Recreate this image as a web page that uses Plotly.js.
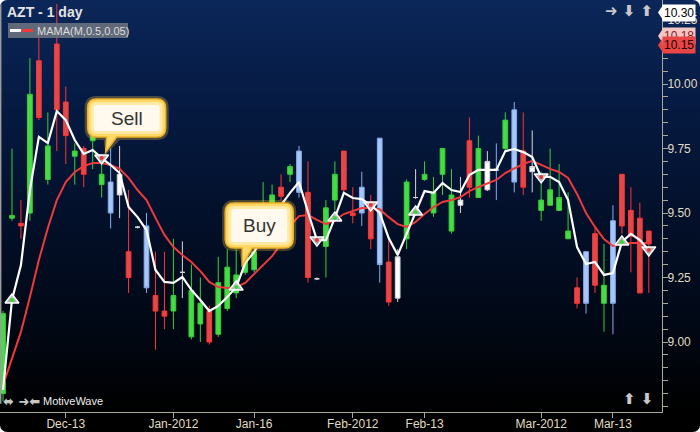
<!DOCTYPE html>
<html><head><meta charset="utf-8">
<script src="https://cdn.plot.ly/plotly-3.0.1.min.js"></script>
<style>
html,body{margin:0;padding:0;background:#ffffff;}
#wrap{position:relative;width:700px;height:432px;border-radius:7px;overflow:hidden;
background:linear-gradient(to bottom,#0b2759 0%,#061b44 22%,#03102a 50%,#010815 75%,#000000 95%);}
#chart{width:700px;height:432px;}
</style></head><body>
<div id="wrap"><div id="chart"></div></div>
<script>
// ---- data ----
const opens  = [8.80,9.48,9.46,9.50,10.09,9.63,10.155,9.93,9.72,9.75,9.78,9.61,9.62,9.65,9.35,9.445,9.45,9.18,9.12,9.12,9.27,9.02,9.07,9.12,9.03,9.13,9.19,9.27,9.28,9.40,9.46,9.60,9.65,9.74,9.58,9.245,9.37,9.55,9.74,9.50,9.60,9.54,9.79,9.31,9.17,9.40,9.56,9.63,9.50,9.65,9.43,9.53,9.78,9.56,9.59,9.665,9.75,9.90,9.74,9.66,9.51,9.53,9.51,9.40,9.21,9.35,9.42,9.15,9.47,9.65,9.51,9.48,9.43];
const highs  = [9.12,9.75,9.55,10.10,10.23,9.89,10.31,9.99,9.77,9.76,9.81,9.69,9.75,9.76,9.59,9.45,9.50,9.35,9.35,9.40,9.39,9.30,9.25,9.14,9.33,9.36,9.36,9.42,9.40,9.62,9.61,9.65,9.69,9.76,9.70,9.25,9.55,9.70,9.74,9.60,9.66,9.57,9.79,9.40,9.36,9.63,9.67,9.70,9.64,9.75,9.67,9.64,9.87,9.80,9.74,9.77,9.89,9.93,9.89,9.82,9.66,9.75,9.69,9.58,9.25,9.35,9.45,9.38,9.53,9.65,9.60,9.54,9.43];
const lows   = [8.77,9.47,9.40,9.47,9.86,9.61,9.74,9.69,9.61,9.60,9.67,9.56,9.44,9.48,9.19,9.44,9.19,8.97,9.05,9.05,9.17,9.01,9.00,8.99,9.02,9.12,9.17,9.26,9.27,9.38,9.44,9.55,9.62,9.56,9.23,9.24,9.25,9.51,9.58,9.46,9.45,9.36,9.23,9.14,9.155,9.36,9.555,9.625,9.485,9.57,9.42,9.50,9.56,9.56,9.585,9.55,9.74,9.58,9.57,9.58,9.47,9.53,9.51,9.40,9.13,9.11,9.19,9.04,9.03,9.42,9.27,9.19,9.19];
const closes = [9.11,9.49,9.45,9.96,9.87,9.76,9.90,9.80,9.74,9.65,9.80,9.65,9.50,9.57,9.25,9.445,9.21,9.12,9.10,9.18,9.27,9.20,9.15,9.00,9.23,9.29,9.26,9.36,9.35,9.52,9.57,9.565,9.68,9.58,9.25,9.245,9.52,9.65,9.59,9.49,9.50,9.40,9.30,9.155,9.33,9.62,9.56,9.65,9.58,9.75,9.57,9.55,9.60,9.75,9.70,9.67,9.86,9.62,9.60,9.68,9.55,9.59,9.56,9.43,9.15,9.15,9.22,9.22,9.15,9.45,9.41,9.19,9.38];
const kinds  = ['g','g','r','g','r','g','r','r','g','r','g','g','b','w','r','w','b','r','r','g','w','g','g','r','g','g','g','g','g','g','g','r','g','b','r','w','g','g','r','r','b','r','b','r','w','g','w','g','g','g','g','w','r','g','w','b','g','b','r','w','g','g','g','g','r','b','r','g','b','r','r','r','r'];
const mama = [8.814,9.163,9.298,9.589,9.795,9.771,9.895,9.860,9.783,9.729,9.744,9.713,9.686,9.655,9.523,9.484,9.434,9.279,9.233,9.229,9.252,9.202,9.163,9.120,9.140,9.174,9.213,9.306,9.349,9.403,9.473,9.531,9.578,9.620,9.504,9.395,9.395,9.481,9.578,9.558,9.554,9.531,9.500,9.403,9.337,9.422,9.504,9.585,9.578,9.616,9.589,9.581,9.647,9.667,9.667,9.667,9.740,9.748,9.736,9.717,9.640,9.640,9.620,9.550,9.368,9.302,9.310,9.260,9.267,9.388,9.419,9.395,9.357];
const fama = [8.833,8.938,9.039,9.174,9.318,9.442,9.550,9.620,9.659,9.682,9.694,9.694,9.686,9.671,9.636,9.589,9.550,9.481,9.415,9.368,9.337,9.310,9.275,9.233,9.213,9.209,9.213,9.229,9.264,9.298,9.333,9.380,9.450,9.488,9.492,9.473,9.457,9.473,9.496,9.508,9.519,9.519,9.515,9.484,9.457,9.446,9.465,9.496,9.523,9.543,9.550,9.562,9.585,9.601,9.616,9.628,9.655,9.674,9.690,9.702,9.686,9.671,9.659,9.636,9.574,9.500,9.446,9.399,9.372,9.380,9.384,9.384,9.384];
const buyIdx  = [1,26,37,46,69];
const sellIdx = [11,35,41,60,72];
const tickIdx  = [7,19,28,39,47,60,68];
const tickText = ['Dec-13','Jan-2012','Jan-16','Feb-2012','Feb-13','Mar-2012','Mar-13'];
const priceTicks = [9.00,9.25,9.50,9.75,10.00,10.25];
const priceLabels = [{v:10.277,t:'10.30'},{v:10.186,t:'10.18'},{v:10.15,t:'10.15'}];

// ---- styles ----
const style = {
  g:{fill:'#46dc46', line:'#38d038'},
  r:{fill:'#e04a4a', line:'#ff3434'},
  b:{fill:'#a6c7f7', line:'#86acee'},
  w:{fill:'#ffffff', line:'#d8d8d8'}
};
const idx = opens.map((_,i)=>i);
const traces = [];
['g','r','b','w'].forEach(k=>{
  const ii = idx.filter(i=>kinds[i]===k);
  const s = {line:{color:style[k].line,width:1},fillcolor:style[k].fill};
  traces.push({type:'candlestick',x:ii,open:ii.map(i=>opens[i]),high:ii.map(i=>highs[i]),
    low:ii.map(i=>lows[i]),close:ii.map(i=>closes[i]),increasing:s,decreasing:s,
    whiskerwidth:0,hoverinfo:'skip',showlegend:false});
});
traces.push({type:'scatter',mode:'lines',x:idx,y:fama,line:{color:'#ee3a3a',width:2},hoverinfo:'skip',showlegend:false});
traces.push({type:'scatter',mode:'lines',x:idx,y:mama,line:{color:'#ffffff',width:2.2},hoverinfo:'skip',showlegend:false});
traces.push({type:'scatter',mode:'markers',x:buyIdx,y:buyIdx.map(i=>mama[i]),
  marker:{symbol:'triangle-up',size:12,color:'rgba(200,200,200,0.85)',line:{color:'#ffffff',width:1.5}},hoverinfo:'skip',showlegend:false});
traces.push({type:'scatter',mode:'markers',x:buyIdx,y:buyIdx.map(i=>mama[i]),
  marker:{symbol:'circle',size:4,color:'#2fd82f'},hoverinfo:'skip',showlegend:false});
traces.push({type:'scatter',mode:'markers',x:sellIdx,y:sellIdx.map(i=>mama[i]),
  marker:{symbol:'triangle-down',size:12,color:'rgba(200,200,200,0.85)',line:{color:'#ffffff',width:1.5}},hoverinfo:'skip',showlegend:false});
traces.push({type:'scatter',mode:'markers',x:sellIdx,y:sellIdx.map(i=>mama[i]),
  marker:{symbol:'circle',size:4,color:'#ee3030'},hoverinfo:'skip',showlegend:false});

// ---- callout bubbles (pixel offsets relative to a signal point) ----
function bubble(b, inset, tail){
  let x0=b.x0+inset, x1=b.x1-inset, yb=b.yb+inset, yt=b.yt-inset, r=Math.max(b.r-inset,1);
  let p=`M ${x0+r} ${yt} L ${x1-r} ${yt} Q ${x1} ${yt} ${x1} ${yt-r} L ${x1} ${yb+r} Q ${x1} ${yb} ${x1-r} ${yb}`;
  if(tail){
    const ext = inset<0 ? -inset : 0;
    p+=` L ${b.br+ext} ${yb} L ${b.tx} ${b.ty-ext} L ${b.bl-ext} ${yb}`;
  }
  p+=` L ${x0+r} ${yb} Q ${x0} ${yb} ${x0} ${yb+r} L ${x0} ${yt-r} Q ${x0} ${yt} ${x0+r} ${yt} Z`;
  return p;
}
const callouts = [
  {i:sellIdx[0], text:'Sell', b:{tx:4,ty:6,x0:-14,x1:64,yb:21,yt:59,r:9,bl:5,br:15}},
  {i:buyIdx[1],  text:'Buy',  b:{tx:6,ty:22,x0:-11,x1:57,yb:39,yt:84,r:9,bl:6,br:16}}
];
const shapes = [
  {type:'line',xref:'paper',yref:'paper',x0:0.001,x1:0.001,y0:0.02,y1:1,line:{color:'#9c9c9c',width:1.5},layer:'above'}
];
const annotations = [];
callouts.forEach(c=>{
  const base = {xref:'x',yref:'y',xsizemode:'pixel',ysizemode:'pixel',xanchor:c.i,yanchor:mama[c.i],type:'path',layer:'above'};
  shapes.push(Object.assign({},base,{path:bubble(c.b,-3,true),fillcolor:'rgba(255,205,70,0.28)',line:{width:0}}));
  shapes.push(Object.assign({},base,{path:bubble(c.b,0,true),fillcolor:'#ffd866',line:{color:'#eeb12a',width:1.5}}));
  shapes.push(Object.assign({},base,{path:bubble(c.b,3,false),fillcolor:'#ffe9a4',line:{width:0}}));
  shapes.push(Object.assign({},base,{path:bubble(c.b,6,false),fillcolor:'#fff9ee',line:{width:0}}));
  annotations.push({xref:'x',yref:'y',x:c.i,y:mama[c.i],showarrow:false,text:c.text,
    xshift:(c.b.x0+c.b.x1)/2, yshift:(c.b.yb+c.b.yt)/2, xanchor:'center',yanchor:'middle',
    font:{family:'Liberation Sans, Arial, sans-serif',size:19,color:'#333333'}});
});

// legend box
shapes.push({type:'rect',xref:'paper',yref:'paper',xsizemode:'pixel',ysizemode:'pixel',xanchor:0,yanchor:1,
  x0:8,x1:128,y0:-23,y1:-38,fillcolor:'rgba(112,118,128,0.85)',line:{width:0},layer:'above'});
shapes.push({type:'line',xref:'paper',yref:'paper',xsizemode:'pixel',ysizemode:'pixel',xanchor:0,yanchor:1,
  x0:10,x1:21,y0:-30.5,y1:-30.5,line:{color:'#ffffff',width:3},layer:'above'});
shapes.push({type:'line',xref:'paper',yref:'paper',xsizemode:'pixel',ysizemode:'pixel',xanchor:0,yanchor:1,
  x0:21,x1:33,y0:-30.5,y1:-30.5,line:{color:'#ee3a3a',width:3},layer:'above'});
annotations.push({xref:'paper',yref:'paper',x:0,y:1,xanchor:'left',yanchor:'middle',xshift:35,yshift:-30.5,showarrow:false,
  text:'MAMA(M,0.5,0.05)',font:{family:'Liberation Sans, Arial, sans-serif',size:11,color:'#dcdcdc'}});
annotations.push({xref:'paper',yref:'paper',x:0,y:1,xanchor:'left',yanchor:'top',xshift:5,yshift:-2,showarrow:false,
  text:'<b>AZT - 1 day</b>',font:{family:'Liberation Sans, Arial, sans-serif',size:14,color:'#e4e4e4'}});
annotations.push({xref:'paper',yref:'paper',x:1,y:1,xanchor:'right',yanchor:'top',xshift:-7,yshift:0,showarrow:false,
  text:'<b>➜ ⬇ ⬆</b>',font:{family:'DejaVu Sans, sans-serif',size:15,color:'#c8c8c8'}});
annotations.push({xref:'paper',yref:'paper',x:1,y:0,xanchor:'right',yanchor:'bottom',xshift:-7,yshift:2,showarrow:false,
  text:'<b>⬆ ⬇</b>',font:{family:'DejaVu Sans, sans-serif',size:15,color:'#c8c8c8'}});
annotations.push({xref:'paper',yref:'paper',x:0,y:0,xanchor:'left',yanchor:'bottom',xshift:1,yshift:1,showarrow:false,
  text:'<b>⬌ ➜⬅</b>',font:{family:'DejaVu Sans, sans-serif',size:13,color:'#c8c8c8'}});
annotations.push({xref:'paper',yref:'paper',x:0,y:0,xanchor:'left',yanchor:'bottom',xshift:41,yshift:3,showarrow:false,
  text:'MotiveWave',font:{family:'Liberation Sans, Arial, sans-serif',size:11,color:'#eeeeee'}});

// price labels on the right axis
const plStyle = [{bg:'#ffffff',fg:'#000000'},{bg:'#f3c6c6',fg:'#8a1a1a'},{bg:'#e84646',fg:'#1a0000'}];
priceLabels.forEach((p,k)=>{
  shapes.push({type:'path',xref:'paper',yref:'y',xsizemode:'pixel',ysizemode:'pixel',xanchor:1,yanchor:p.v,
    path:'M -4 0 L 1 7.5 L 1 -7.5 Z',fillcolor:plStyle[k].bg,line:{width:0},layer:'above'});
  annotations.push({xref:'paper',yref:'y',x:1,y:p.v,xanchor:'left',yanchor:'middle',xshift:0,showarrow:false,
    text:p.t,bgcolor:plStyle[k].bg,borderpad:1,font:{family:'Liberation Sans, Arial, sans-serif',size:12,color:plStyle[k].fg}});
});

const axisCol = '#a9a896';
const layout = {
  width:700,height:432,margin:{l:0,r:38,t:0,b:20},
  paper_bgcolor:'rgba(0,0,0,0)',plot_bgcolor:'rgba(0,0,0,0)',
  showlegend:false,boxgap:0.25,
  xaxis:{range:[-0.334,73.47],tickmode:'array',tickvals:tickIdx,ticktext:tickText,
    showline:true,linecolor:axisCol,linewidth:1,ticks:'outside',ticklen:5,tickcolor:axisCol,
    ticklabelstandoff:-4,
    showgrid:false,zeroline:false,rangeslider:{visible:false},fixedrange:true,
    tickfont:{family:'Liberation Sans, Arial, sans-serif',size:12,color:'#e0dcc2'}},
  yaxis:{side:'right',range:[8.7287,10.3256],tickmode:'array',tickvals:priceTicks,
    ticktext:priceTicks.map(v=>v.toFixed(2)),showline:true,linecolor:axisCol,linewidth:1,
    ticks:'outside',ticklen:5,tickcolor:axisCol,ticklabelstandoff:-3,showgrid:false,zeroline:false,fixedrange:true,
    minor:{tickmode:'linear',tick0:0,dtick:0.05,ticks:'outside',ticklen:5,tickcolor:axisCol,showgrid:false},
    tickfont:{family:'Liberation Sans, Arial, sans-serif',size:12,color:'#e0dcc2'}},
  shapes:shapes,annotations:annotations
};
Plotly.newPlot('chart',traces,layout,{staticPlot:true,displayModeBar:false});
</script></body></html>
